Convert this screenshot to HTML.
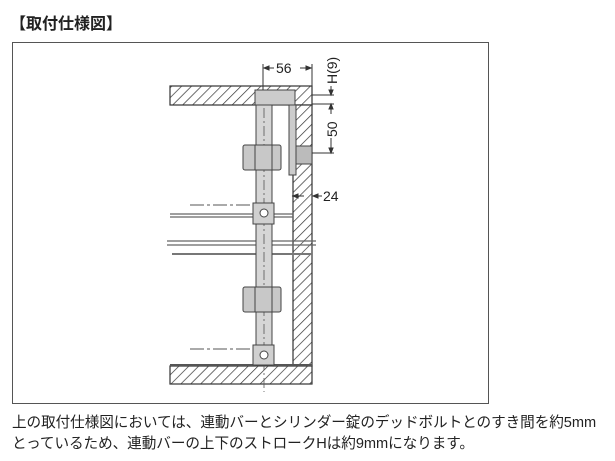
<!DOCTYPE html>
<html><head><meta charset="utf-8"><style>
body{margin:0;background:#fff;width:615px;height:461px;overflow:hidden;font-family:"Liberation Sans","Noto Sans CJK JP",sans-serif;}
.t{position:absolute;left:10px;top:10px;font-size:16px;font-weight:bold;color:#222;}
.p{position:absolute;left:12px;font-size:14.6px;color:#222;white-space:nowrap;letter-spacing:-0.05px}
</style></head><body>
<div class="t">【取付仕様図】</div>
<svg width="615" height="461" style="position:absolute;left:0;top:0">
<defs>
<pattern id="h" patternUnits="userSpaceOnUse" width="7" height="7" patternTransform="rotate(45)">
<rect width="7" height="7" fill="#fff"/><line x1="0" y1="0" x2="0" y2="7" stroke="#333" stroke-width="1.4"/>
</pattern>
</defs>
<rect x="12.5" y="42.5" width="476" height="361" fill="none" stroke="#555" stroke-width="1"/>
<rect x="170" y="86" width="142" height="19" fill="url(#h)" stroke="#333" stroke-width="1.2"/>
<rect x="293" y="105" width="19" height="261" fill="url(#h)" stroke="#333" stroke-width="1.2"/>
<rect x="170" y="366" width="142" height="18" fill="url(#h)" stroke="#333" stroke-width="1.2"/>
<line x1="170" y1="365" x2="312" y2="365" stroke="#555" stroke-width="2"/>
<g stroke="#666" stroke-width="1.2">
<line x1="170" y1="214" x2="293" y2="214"/><line x1="170" y1="217" x2="293" y2="217"/>
<line x1="167" y1="241" x2="316" y2="241"/><line x1="167" y1="245" x2="316" y2="245"/>
</g>
<line x1="172" y1="254" x2="312" y2="254" stroke="#777" stroke-width="2"/>
<line x1="190" y1="349" x2="255" y2="349" stroke="#555" stroke-dasharray="14,3,3,3" />
<line x1="190" y1="205" x2="255" y2="205" stroke="#555" stroke-dasharray="14,3,3,3" />
<rect x="256" y="100" width="16" height="266" fill="#d6d6d6" stroke="#444" stroke-width="1"/>
<line x1="264" y1="90" x2="264" y2="392" stroke="#555" stroke-width="0.8" stroke-dasharray="10,3,2,3"/>
<rect x="255" y="90" width="40" height="15" fill="#ccc" stroke="#444"/>
<rect x="289" y="105" width="7" height="70" fill="#ccc" stroke="#444"/>
<rect x="296" y="146" width="16" height="18" fill="#bbb" stroke="#444"/>
<rect x="243" y="145" width="38" height="25" rx="2" fill="#c8c8c8" stroke="#444"/>
<line x1="255" y1="145" x2="255" y2="170" stroke="#444"/><line x1="272" y1="145" x2="272" y2="170" stroke="#444"/>
<rect x="243" y="287" width="38" height="25" rx="2" fill="#c8c8c8" stroke="#444"/>
<line x1="255" y1="287" x2="255" y2="312" stroke="#444"/><line x1="272" y1="287" x2="272" y2="312" stroke="#444"/>
<rect x="253" y="203" width="21" height="21" fill="#d0d0d0" stroke="#444"/>
<circle cx="264" cy="213" r="4" fill="#fff" stroke="#444"/>
<rect x="253" y="345" width="21" height="20" fill="#d0d0d0" stroke="#444"/>
<circle cx="264" cy="355" r="4" fill="#fff" stroke="#444"/>
<g stroke="#333" stroke-width="1" fill="#333">
<line x1="263" y1="64" x2="263" y2="90"/><line x1="312" y1="64" x2="312" y2="86"/>
<line x1="266" y1="68" x2="274" y2="68"/><line x1="300" y1="68" x2="309" y2="68"/>
<polygon points="264,68 269,66 269,70"/><polygon points="311,68 306,66 306,70"/>
<line x1="312" y1="95" x2="334" y2="95"/><line x1="312" y1="104" x2="334" y2="104"/>
<line x1="312" y1="153" x2="334" y2="153"/>
<line x1="331" y1="86" x2="331" y2="94"/><polygon points="331,95 329,90 333,90"/>
<line x1="331" y1="105" x2="331" y2="114"/><polygon points="331,104 329,109 333,109"/>
<line x1="331" y1="138" x2="331" y2="153"/><polygon points="331,153 329,148 333,148"/>
<line x1="304" y1="196" x2="292" y2="196"/><polygon points="293,196 298,194 298,198"/>
<line x1="313" y1="196" x2="322" y2="196"/><polygon points="313,196 318,194 318,198"/>
</g>
<g font-family="Liberation Sans,sans-serif" font-size="14" fill="#222">
<text x="276" y="73">56</text>
<text x="323" y="201">24</text>
<text transform="translate(337,84) rotate(-90)">H(9)</text>
<text transform="translate(337,137) rotate(-90)">50</text>
</g>
</svg>
<div class="p" style="top:411px">上の取付仕様図においては、連動バーとシリンダー錠のデッドボルトとのすき間を約5mm</div>
<div class="p" style="top:432px">とっているため、連動バーの上下のストロークHは約9mmになります。</div>
</body></html>
